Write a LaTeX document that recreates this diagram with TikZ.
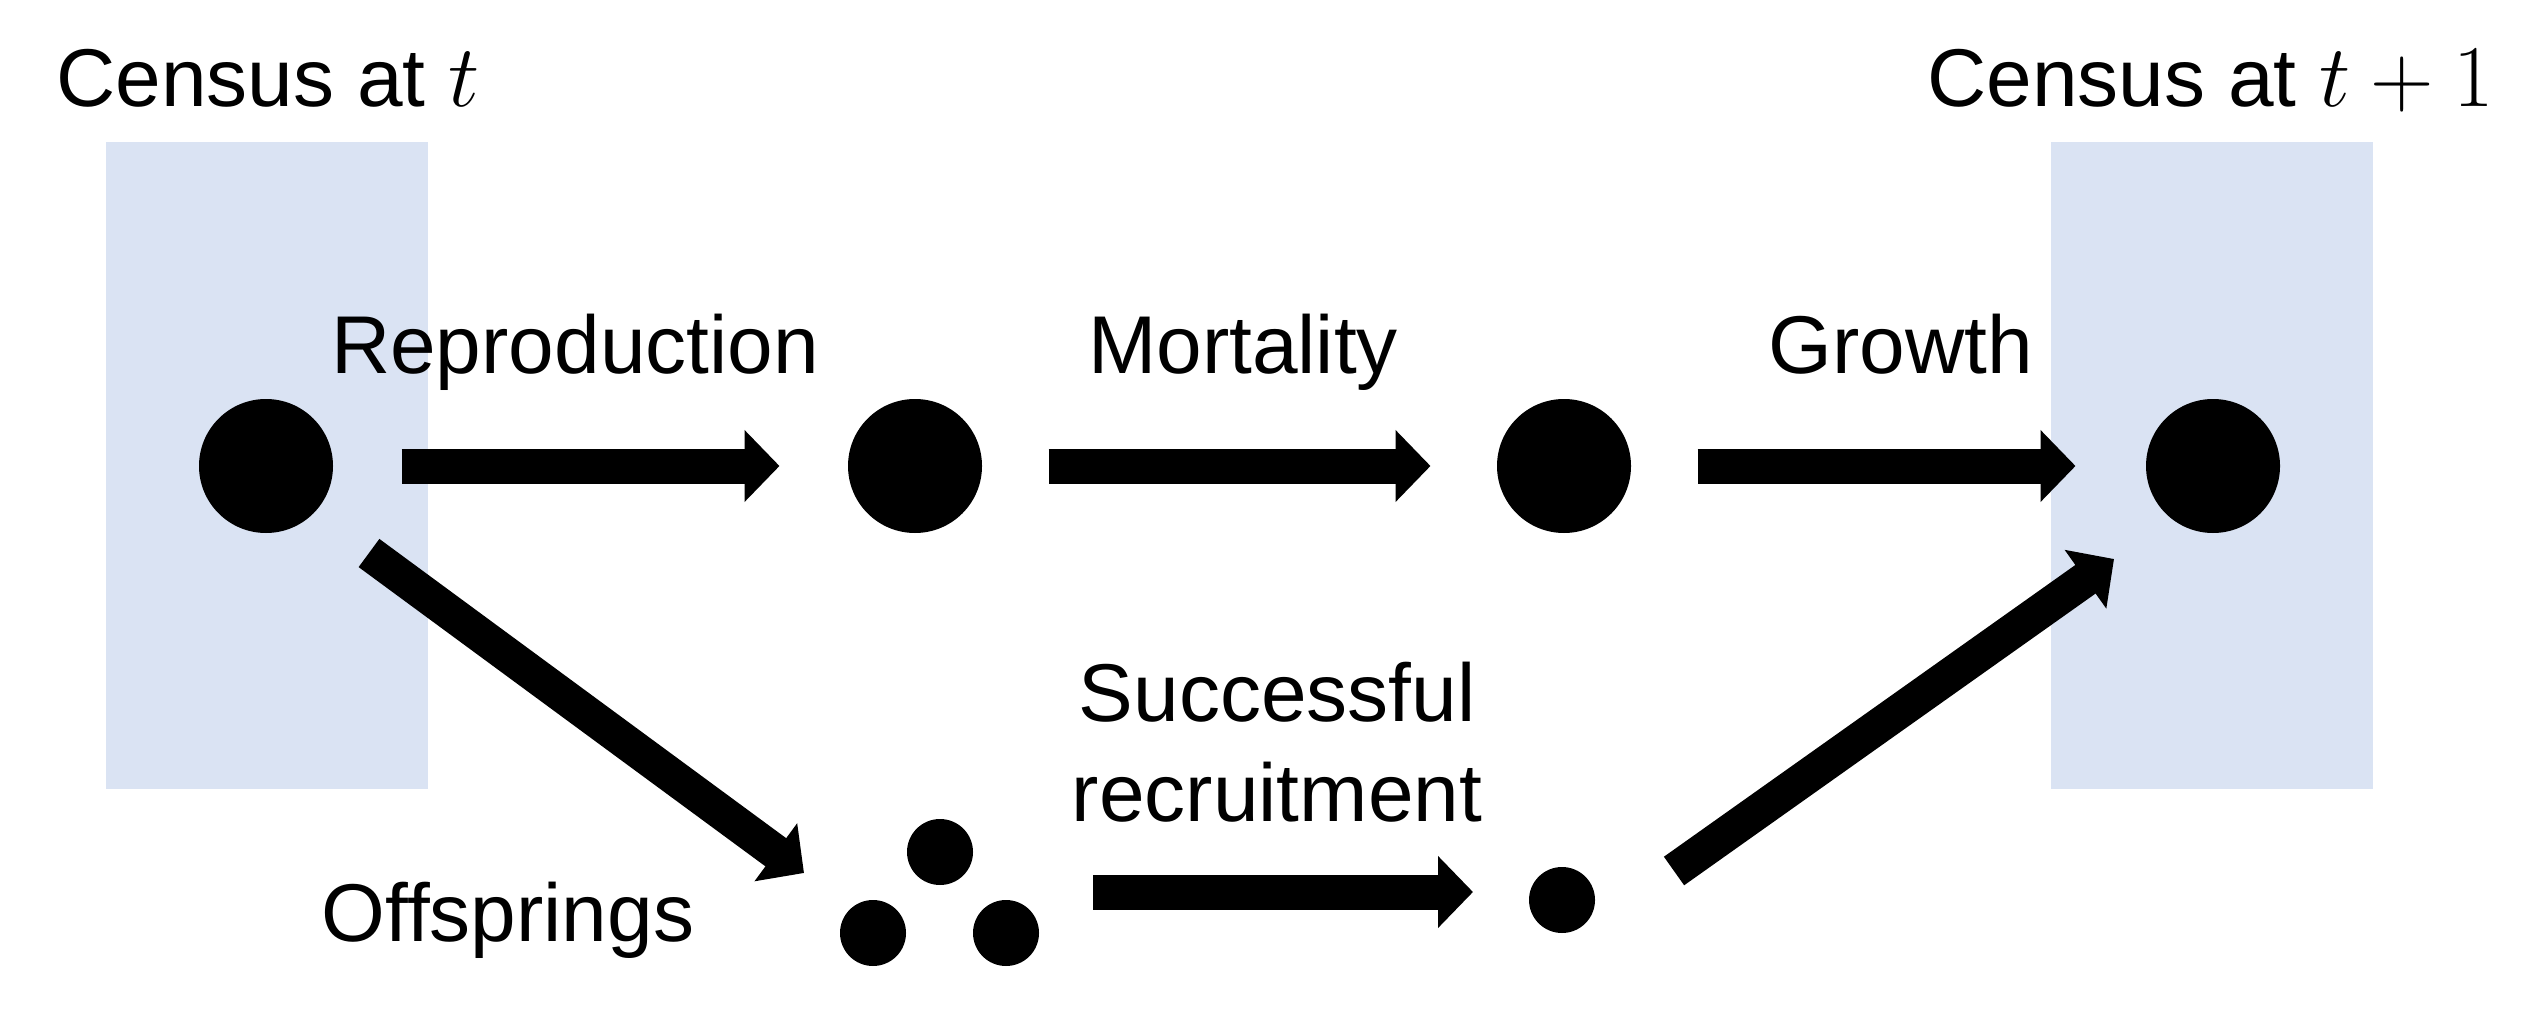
\RequirePackage{fix-cm}
\documentclass[tikz,border=0pt]{standalone}
\usepackage{fontspec}
\setmainfont{Liberation Sans}
\usetikzlibrary{arrows.meta}
\definecolor{censusbg}{HTML}{DAE3F3}
\newcommand{\bigmath}[1]{{\fontsize{35.2}{40}\selectfont$#1$}}
\begin{document}
\begin{tikzpicture}[x=0.4pt,y=-0.4pt,
  lbl/.style={font=\fontsize{32.8}{40}\selectfont, inner sep=0pt, anchor=base},
  bigdot/.style={circle, fill=black, minimum size=53.6pt, inner sep=0pt},
  smalldot/.style={circle, fill=black, minimum size=26.4pt, inner sep=0pt},
  census/.style={fill=censusbg, minimum width=128.8pt, minimum height=258.8pt, inner sep=0pt},
  flow/.style={line width=14pt, -{Triangle[length=14pt,width=28pt]}},
]
\useasboundingbox (0,0) rectangle (2530,1012);
% census boxes
\node[census] (boxt) at (267,465.5) {};
\node[census] (boxt1) at (2212,465.5) {};
% titles
\node[lbl, anchor=base west] (lt) at (56,107) {Census at \bigmath{t}};
\node[lbl, anchor=base west] (lt1) at (1927,107) {Census at \bigmath{t+1}};
% individuals
\node[bigdot] (c1) at (266,466) {};
\node[bigdot] (c2) at (915,466) {};
\node[bigdot] (c3) at (1564,466) {};
\node[bigdot] (c4) at (2213,466) {};
\node[smalldot] (o1) at (940,852) {};
\node[smalldot] (o2) at (873,933) {};
\node[smalldot] (o3) at (1006,933) {};
\node[smalldot] (rd) at (1562,900) {};
% labels
\node[lbl] (lrep) at (575,373) {Reproduction};
\node[lbl] (lmor) at (1243,373) {Mortality};
\node[lbl] (lgro) at (1901,373) {Growth};
\node[lbl, align=center] (lsuc) at (1277,821) {Successful\\recruitment};
\node[lbl] (loff) at (508,941) {Offsprings};
% arrow ends
\coordinate (d0) at (369,553);
\coordinate (d1) at (804,873);
\coordinate (r0) at (1093,892);
\coordinate (r1) at (1473,892);
\coordinate (u0) at (1674,871);
\coordinate (u1) at (2114,559);
% arrows
\draw[flow, shorten <=27.2pt, shorten >=27.2pt] (c1) -- (c2);
\draw[flow, shorten <=26.4pt, shorten >=26.4pt] (c2) -- (c3);
\draw[flow, shorten <=26.4pt, shorten >=28pt] (c3) -- (c4);
\draw[flow] (d0) -- (d1);
\draw[flow] (r0) -- (r1);
\draw[flow] (u0) -- (u1);
\end{tikzpicture}
\end{document}
